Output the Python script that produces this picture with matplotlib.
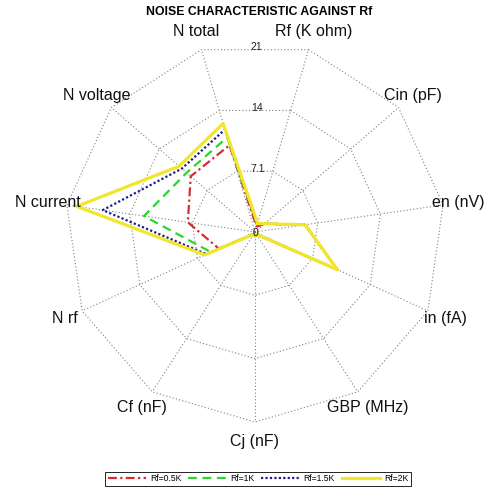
import numpy as np
import matplotlib
matplotlib.use('Agg')
import matplotlib.pyplot as plt

plt.rcParams['font.family'] = ['Liberation Sans', 'DejaVu Sans']

# ---- data -------------------------------------------------------------
axis_labels = ['Rf (K ohm)', 'Cin (pF)', 'en (nV)', 'in (fA)', 'GBP (MHz)',
               'Cj (nF)', 'Cf (nF)', 'N rf', 'N current', 'N voltage', 'N total']
series_names = ['Rf=0.5K', 'Rf=1K', 'Rf=1.5K', 'Rf=2K']
rf_05 = [0.6, 1.4, 5.6, 10.0, 0.3, 0.5, 0.3, 4.4, 7.5, 9.4, 10.0]
rf_1 = [0.8, 1.4, 5.6, 10.0, 0.3, 0.5, 0.3, 5.35, 12.4, 10.0, 10.9]
rf_15 = [0.9, 1.4, 5.6, 10.0, 0.3, 0.5, 0.3, 5.9, 17.0, 10.7, 11.8]
rf_2 = [1.0, 1.4, 5.6, 10.0, 0.3, 0.5, 0.3, 6.1, 19.9, 11.1, 12.5]
ring_labels = ['7.1', '14', '21']
r_max = 21.0

# ---- styling ------------------------------------------------------------
colors = ['#d92b2b', '#2bd62b', '#1b1f8a', '#f2e62a']
dashes = [(4, 1.5, 1, 1.5), (4, 2.5), (1, 1), None]
widths = [1.6, 1.6, 1.6, 2.3]

n = len(axis_labels)
theta = np.deg2rad(-90 + (5 - np.arange(n)) * 360.0 / n)
ux, uy = np.cos(theta), np.sin(theta)

W, H = 485, 490
fig = plt.figure(figsize=(W / 100, H / 100), dpi=100)
ax = fig.add_axes([0, 0, 1, 1])
s = 190.0 / r_max  # pixels per unit
cx, cy = 255.0, 232.0
ax.set_xlim(-cx / s, (W - cx) / s)
ax.set_ylim(-(H - cy) / s, cy / s)
ax.axis('off')

grid_kw = dict(color='#808080', lw=0.8, ls=(0, (1, 2)), zorder=1)
for k in range(1, 4):
    r = r_max * k / 3
    xs = np.append(r * ux, r * ux[0])
    ys = np.append(r * uy, r * uy[0])
    ax.plot(xs, ys, **grid_kw)
for i in range(n):
    ax.plot([0, r_max * ux[i]], [0, r_max * uy[i]], **grid_kw)

all_series = [rf_05, rf_1, rf_15, rf_2]
handles = []
for vals, name, c, d, w in zip(all_series, series_names, colors, dashes, widths):
    v = np.array(vals)
    xs = np.append(v * ux, v[0] * ux[0])
    ys = np.append(v * uy, v[0] * uy[0])
    if d is None:
        ln, = ax.plot(xs, ys, color=c, lw=w, ls='-', zorder=3, label=name)
    else:
        ln, = ax.plot(xs, ys, color=c, lw=w, dashes=d, zorder=3, label=name)
    handles.append(ln)

apo = np.cos(np.pi / n)
for k, lab in enumerate(ring_labels, start=1):
    r = r_max * k / 3
    ax.text(-0.45, r * apo + 0.3, lab, ha='left', va='center', fontsize=7.5,
            color='#222222', zorder=4)
ax.text(0.1, -0.15, '0', ha='center', va='center', fontsize=7.5,
        color='#111111', zorder=4)

fig.canvas.draw()
renderer = fig.canvas.get_renderer()
for i, lab in enumerate(axis_labels):
    t = ax.text(1.1 * r_max * ux[i], 1.1 * r_max * uy[i], lab, ha='center',
                va='center', fontsize=11.5, color='#111111')
    bb = t.get_window_extent(renderer)
    over = bb.x1 - (W - 1)
    if over > 0:
        x0, y0 = t.get_position()
        t.set_position((x0 - over / s, y0))

fig.text(259.5 / W, 1 - 12 / H, 'NOISE CHARACTERISTIC AGAINST Rf',
         ha='center', va='center', fontsize=8.8, fontweight='bold')

leg = fig.legend(handles=handles, loc='upper center',
                 bbox_to_anchor=(258 / W, 1 - 467.5 / H), ncol=4, fontsize=6.2,
                 handlelength=4.4, handletextpad=0.5, columnspacing=0.8,
                 frameon=True, fancybox=False, edgecolor='black',
                 borderpad=0.3, framealpha=1)
leg.get_frame().set_linewidth(0.6)

fig.savefig('out.png', dpi=100)
